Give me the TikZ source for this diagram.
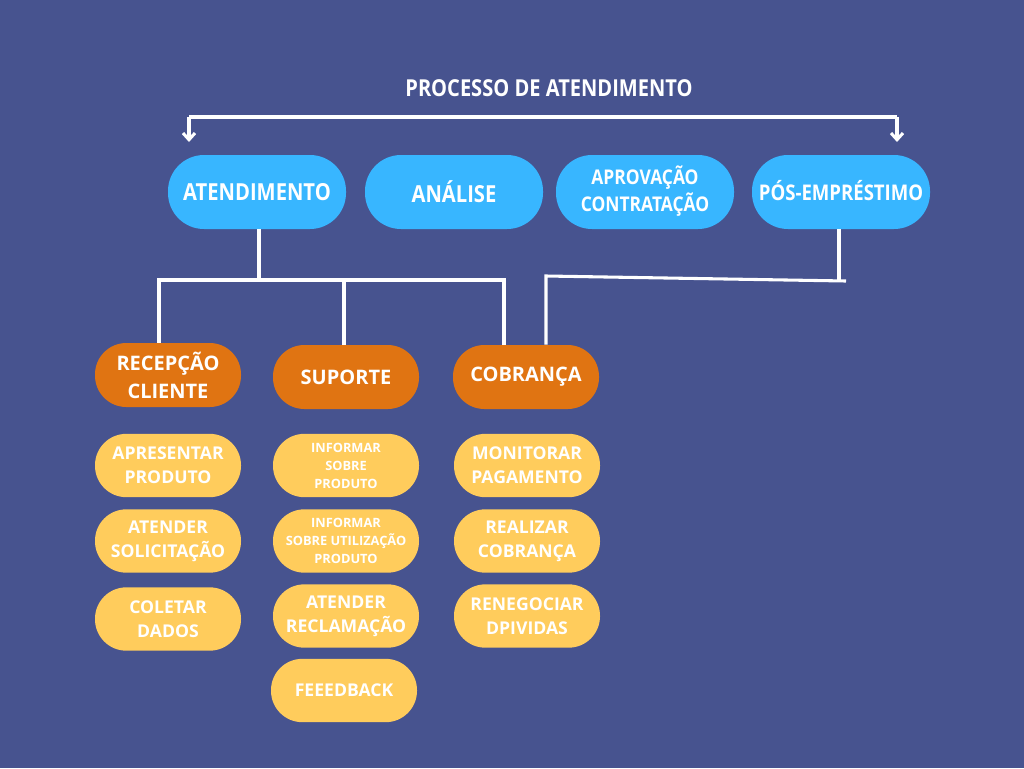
\documentclass[tikz,border=0pt]{standalone}
\usepackage{fontspec}
\setmainfont{Open Sans}[BoldFont={* Bold}]
\newfontfamily\condf{Open Sans}[FakeStretch=0.86,UprightFont={* Bold}]
\usetikzlibrary{arrows.meta,calc}
\definecolor{bg}{RGB}{71,83,143}
\definecolor{bluen}{RGB}{56,182,255}
\definecolor{orangen}{RGB}{224,116,18}
\definecolor{yellown}{RGB}{255,204,92}
\tikzset{
  conn/.style={draw=white,line width=2.3pt},
  pill/.style={rectangle,align=center,text=white,inner sep=0pt},
  stagebox/.style={pill,rounded corners=27pt,fill=bluen,minimum width=133.5pt,minimum height=55.5pt,font=\condf\fontsize{17.6}{18}\selectfont},
  groupbox/.style={pill,rounded corners=23.5pt,fill=orangen,minimum width=109.5pt,minimum height=48pt,font=\bfseries\fontsize{15}{21}\selectfont},
  taskbox/.style={pill,rounded corners=23.5pt,fill=yellown,minimum width=109.5pt,minimum height=47.5pt,font=\bfseries\fontsize{13.2}{18}\selectfont},
  smalltask/.style={taskbox,font=\bfseries\fontsize{9.6}{13.5}\selectfont},
}
\begin{document}
\begin{tikzpicture}[x=0.75pt,y=-0.75pt]
\fill[bg] (0,0) rectangle (1024,768);
\useasboundingbox (0,0) rectangle (1024,768);
\node[font=\condf\fontsize{17.5}{18}\selectfont,text=white] (title) at (549,88) {PROCESSO DE ATENDIMENTO};
% stages
\node[stagebox] (aten) at (257,192) {ATENDIMENTO};
\node[stagebox] (anal) at (454,192) {ANÁLISE};
\node[stagebox,font=\condf\fontsize{15.2}{18}\selectfont] (aprov) at (645,192) {\raisebox{5pt}{APROVAÇÃO}\\\raisebox{5pt}{CONTRATAÇÃO}};
\node[stagebox,font=\condf\fontsize{16.2}{18}\selectfont] (pos) at (841,192) {\raisebox{3pt}{PÓS-EMPRÉSTIMO}};
% bracket
\coordinate (bl) at (189,117);
\coordinate (br) at (897,117);
\coordinate (blt) at (189,142);
\coordinate (brt) at (897,142);
\draw[conn] (bl) -- (br);
\draw[conn,-{Straight Barb[length=5pt,width=9pt]}] (bl) -- (blt);
\draw[conn,-{Straight Barb[length=5pt,width=9pt]}] (br) -- (brt);
% groups
\node[groupbox] (rec) at (168,375) {RECEPÇÃO\\CLIENTE};
\node[groupbox] (sup) at (346,377) {SUPORTE};
\node[groupbox] (cob) at (526,377) {COBRANÇA};
% tasks
\node[taskbox] (t11) at (168,465.5) {\raisebox{-2pt}{APRESENTAR}\\\raisebox{-2pt}{PRODUTO}};
\node[taskbox] (t12) at (168,541) {\raisebox{-2pt}{ATENDER}\\\raisebox{-2pt}{SOLICITAÇÃO}};
\node[taskbox] (t13) at (168,619) {COLETAR\\DADOS};
\node[smalltask] (t21) at (346,465.5) {INFORMAR\\SOBRE\\PRODUTO};
\node[smalltask] (t22) at (346,541) {INFORMAR\\SOBRE UTILIZAÇÃO\\PRODUTO};
\node[taskbox] (t23) at (346,616) {ATENDER\\RECLAMAÇÃO};
\node[taskbox] (t24) at (344,690.5) {FEEEDBACK};
\node[taskbox] (t31) at (527,465.5) {\raisebox{-2pt}{MONITORAR}\\\raisebox{-2pt}{PAGAMENTO}};
\node[taskbox] (t32) at (527,541) {\raisebox{-2pt}{REALIZAR}\\\raisebox{-2pt}{COBRANÇA}};
\node[taskbox] (t33) at (527,616) {RENEGOCIAR\\DPIVIDAS};
% tree from ATENDIMENTO
\coordinate (ja) at (259,280);
\coordinate (jl) at (159,280);
\coordinate (jr) at (504,280);
\draw[conn] (259,229) -- (ja);
\draw[conn] (rec.north -| jl) -- (jl) -- (jr) -- (cob.north -| jr);
\draw[conn] (sup.north -| 344,0) -- (344,280);
% from PÓS
\coordinate (pa) at (839,229);
\coordinate (pb) at (839,281);
\coordinate (pc) at (846,281);
\coordinate (pd) at (546,276);
\draw[conn] (pa) -- (pb);
\draw[conn] (pc) -- (pd) -- (cob.north -| pd);
\end{tikzpicture}
\end{document}
